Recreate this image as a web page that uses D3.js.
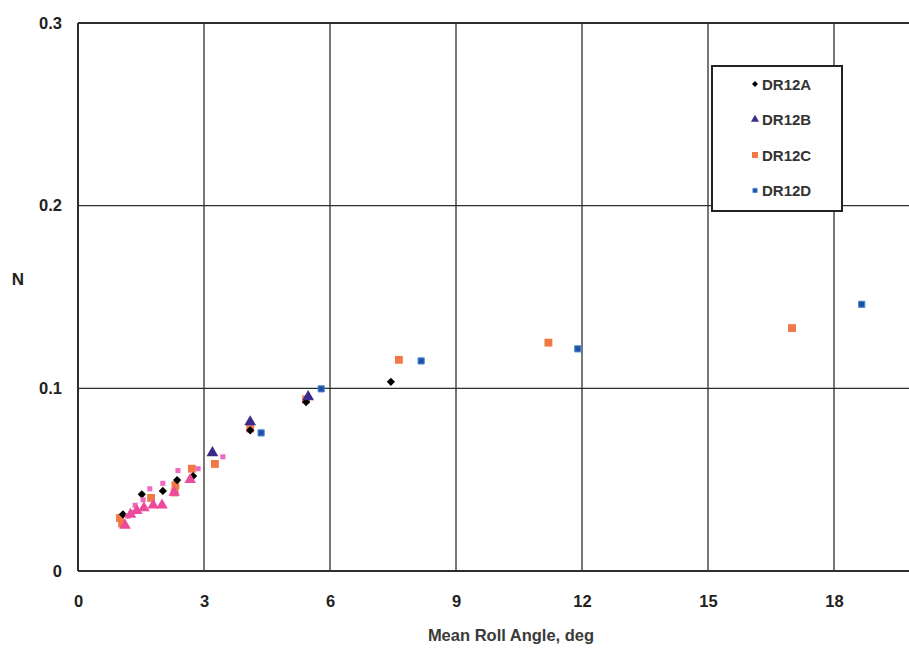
<!DOCTYPE html>
<html><head><meta charset="utf-8">
<script src="https://cdn.jsdelivr.net/npm/d3@7"></script>
<style>body{margin:0;background:#fff}svg{display:block}</style>
</head><body><svg id="c" width="909" height="648"></svg>
<script>
const xTicks = [0, 3, 6, 9, 12, 15, 18];
const yTicks = [0, 0.1, 0.2, 0.3];
const yTickLabels = ["0", "0.1", "0.2", "0.3"];
const xTitle = "Mean Roll Angle, deg";
const yTitle = "N";

const dr12aX = [1.07, 1.52, 2.02, 2.36, 2.74, 4.10, 5.43, 7.45];
const dr12aY = [0.031, 0.042, 0.0438, 0.0498, 0.052, 0.077, 0.0925, 0.1036];
const dr12bX = [3.20, 4.10, 5.48];
const dr12bY = [0.0647, 0.0816, 0.0953];
const dr12cX = [1.00, 1.05, 1.74, 2.30, 2.32, 2.71, 3.26, 4.10, 5.43, 7.64, 11.2, 17.0];
const dr12cY = [0.029, 0.026, 0.040, 0.043, 0.047, 0.056, 0.0586, 0.078, 0.094, 0.1156, 0.125, 0.133];
const dr12dX = [4.36, 5.79, 8.17, 11.9, 18.66];
const dr12dY = [0.0756, 0.0997, 0.115, 0.1216, 0.146];
const extraTriX = [1.12, 1.25, 1.40, 1.57, 1.79, 2.00, 2.29, 2.67];
const extraTriY = [0.025, 0.031, 0.033, 0.0345, 0.036, 0.036, 0.043, 0.050];
const extraSqX = [1.19, 1.29, 1.36, 1.55, 1.71, 2.02, 2.38, 2.86, 3.45];
const extraSqY = [0.030, 0.032, 0.036, 0.039, 0.045, 0.048, 0.055, 0.056, 0.0625];

(function () {
const svg = d3.select("#c");
const pLeft = 78, pTop = 23, pBottom = 571;
const x = d3.scaleLinear().domain([0, 21]).range([pLeft, pLeft + 21 * 42]);
const y = d3.scaleLinear().domain([0, 0.3]).range([pBottom, pTop]);
const gridColor = "#2b302c";
const font = "Liberation Sans, Arial, sans-serif";

svg.append("g").selectAll("line").data(xTicks).join("line")
  .attr("x1", d => x(d)).attr("x2", d => x(d)).attr("y1", pTop).attr("y2", pBottom)
  .attr("stroke", gridColor).attr("stroke-width", d => d === 0 ? 2 : 1.3);
svg.append("g").selectAll("line").data(yTicks).join("line")
  .attr("x1", pLeft).attr("x2", 909).attr("y1", d => y(d)).attr("y2", d => y(d))
  .attr("stroke", gridColor).attr("stroke-width", d => (d === 0 || d === 0.3) ? 2 : 1.3);

const xAxis = d3.axisBottom(x).tickValues(xTicks).tickSize(0).tickPadding(24).tickFormat(d3.format("d"));
const gx = svg.append("g").attr("transform", `translate(0,${pBottom})`).call(xAxis);
gx.select(".domain").remove();
gx.selectAll("text").attr("font-family", font).attr("font-size", 16.5).attr("font-weight", "bold").attr("fill", "#222");
const yAxis = d3.axisLeft(y).tickValues(yTicks).tickSize(0).tickPadding(16).tickFormat((d, i) => yTickLabels[i]);
const gy = svg.append("g").attr("transform", `translate(${pLeft},0)`).call(yAxis);
gy.select(".domain").remove();
gy.selectAll("text").attr("font-family", font).attr("font-size", 16.5).attr("font-weight", "bold").attr("fill", "#222");

svg.append("text").attr("x", 511).attr("y", 641).attr("text-anchor", "middle")
  .attr("font-family", font).attr("font-size", 16.5).attr("font-weight", "bold").attr("fill", "#3a3a3a").text(xTitle);
svg.append("text").attr("x", 18).attr("y", 285).attr("text-anchor", "middle")
  .attr("font-family", font).attr("font-size", 17).attr("font-weight", "bold").attr("fill", "#222").text(yTitle);

function pts(xs, ys) { return xs.map((v, i) => ({x: v, y: ys[i]})); }
const series = [
  {name: null, data: pts(extraSqX, extraSqY), type: d3.symbolSquare, size: 26, fill: "#ec6cc4", stroke: "none", rot: 0},
  {name: null, data: pts(extraTriX, extraTriY), type: d3.symbolTriangle, size: 58, fill: "#ee4a9c", stroke: "none", rot: 0},
  {name: "DR12A", data: pts(dr12aX, dr12aY), type: d3.symbolSquare, size: 34, fill: "#000", stroke: "none", legSize: 18, rot: 45},
  {name: "DR12B", data: pts(dr12bX, dr12bY), type: d3.symbolTriangle, size: 60, fill: "#3b2a8a", stroke: "none", legSize: 28, rot: 0},
  {name: "DR12C", data: pts(dr12cX, dr12cY), type: d3.symbolSquare, size: 62, fill: "#f07a45", stroke: "none", legSize: 36, rot: 0},
  {name: "DR12D", data: pts(dr12dX, dr12dY), type: d3.symbolSquare, size: 38, fill: "#1f4fa8", stroke: "#4a8ad0", legSize: 18, rot: 0}
];
const order = [4, 2, 3, 0, 1, 5];
order.forEach(i => {
  const s = series[i];
  svg.append("g").selectAll("path").data(s.data).join("path")
    .attr("transform", d => `translate(${x(d.x)},${y(d.y)}) rotate(${s.rot})`)
    .attr("d", d3.symbol().type(s.type).size(s.size))
    .attr("fill", s.fill).attr("stroke", s.stroke).attr("stroke-width", 1);
});

const lg = svg.append("g");
lg.append("rect").attr("x", 712).attr("y", 66).attr("width", 130).attr("height", 145)
  .attr("fill", "#fff").attr("stroke", "#222").attr("stroke-width", 2);
const legItems = series.filter(s => s.name);
legItems.forEach((s, i) => {
  const ly = 84 + i * 35.5;
  lg.append("path").attr("transform", `translate(755,${ly}) rotate(${s.rot})`)
    .attr("d", d3.symbol().type(s.type).size(s.legSize)).attr("fill", s.fill).attr("stroke", s.stroke).attr("stroke-width", 0.8);
  lg.append("text").attr("x", 762).attr("y", ly + 5.5).attr("font-family", font)
    .attr("font-size", 15).attr("font-weight", "bold").attr("fill", "#333").text(s.name);
});
})();
</script></body></html>
